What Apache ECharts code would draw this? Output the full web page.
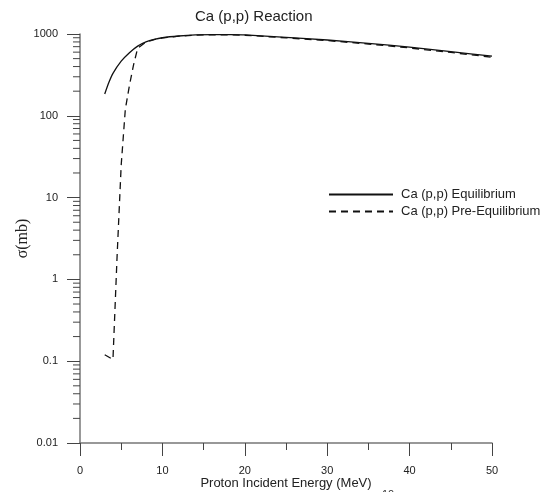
<!DOCTYPE html>
<html>
<head>
<meta charset="utf-8">
<script src="https://cdn.jsdelivr.net/npm/echarts@6/dist/echarts.min.js"></script>
<style>
  html, body { margin: 0; padding: 0; background: #fff; }
  #chart { width: 549px; height: 492px; }
</style>
</head>
<body>
<div id="chart"></div>
<script>
// proton energy (MeV) and cross section (mb)
const energyEq = [3, 3.5, 4, 5, 6, 7, 8, 9, 10, 12, 14, 16, 18, 20, 25, 30, 35, 40, 45, 50]
const sigmaEq = [185, 255, 330, 465, 590, 710, 800, 860, 900, 945, 975, 985, 982, 975, 910, 845, 770, 690, 610, 535]
const energyPre = [3, 4, 4.5, 5, 5.5, 6, 6.5, 7, 8, 9, 10, 12, 14, 16, 18, 20, 25, 30, 35, 40, 45, 50]
const sigmaPre = [0.12, 0.105, 1.9, 25, 120, 235, 420, 670, 795, 855, 895, 940, 970, 980, 976, 966, 898, 830, 755, 675, 595, 520]
const seriesNames = ['Ca (p,p) Equilibrium', 'Ca (p,p) Pre-Equilibrium']
const decades = [0.01, 0.1, 1, 10, 100]
const minorSteps = [2, 3, 4, 5, 6, 7, 8, 9]

const toPairs = (xs, ys) => xs.map((x, i) => [x, ys[i]])
const yMinor = []
decades.forEach(d => minorSteps.forEach(m => yMinor.push([0, d * m])))

const chart = echarts.init(document.getElementById('chart'))
const axisGrey = '#777'
const textColor = '#222'

chart.setOption({
  animation: false,
  backgroundColor: '#fff',
  title: {
    text: 'Ca (p,p) Reaction',
    left: 195,
    top: 9,
    padding: 0,
    textStyle: { fontFamily: 'Liberation Sans', fontSize: 15, fontWeight: 'normal', color: textColor }
  },
  legend: {
    data: seriesNames,
    orient: 'vertical',
    left: 328,
    top: 188,
    padding: 0,
    itemWidth: 64,
    itemHeight: 14,
    itemGap: 4,
    itemStyle: { opacity: 0 },
    textStyle: { fontFamily: 'Liberation Sans', fontSize: 13, color: textColor, padding: [0, 0, 0, 3] }
  },
  grid: { left: 80, right: 57, top: 34, bottom: 49, containLabel: false, outerBoundsMode: 'none' },
  xAxis: {
    type: 'value',
    min: 0,
    max: 50,
    interval: 10,
    name: 'Proton Incident Energy (MeV)',
    nameLocation: 'middle',
    nameGap: 34,
    nameMoveOverlap: false,
    nameTextStyle: { fontFamily: 'Liberation Sans', fontSize: 13, color: textColor },
    axisLine: { show: true, lineStyle: { color: axisGrey, width: 1.5 } },
    axisTick: { show: true, length: 13, lineStyle: { color: '#444' } },
    minorTick: { show: true, splitNumber: 2, length: 7, lineStyle: { color: '#444' } },
    splitLine: { show: false },
    axisLabel: { margin: 22, fontFamily: 'Liberation Sans', fontSize: 11, color: textColor }
  },
  yAxis: {
    type: 'log',
    logBase: 10,
    min: 0.01,
    max: 1000,
    name: 'σ(mb)',
    nameLocation: 'middle',
    nameGap: 49,
    nameMoveOverlap: false,
    nameTextStyle: { fontFamily: 'Liberation Serif', fontSize: 16, color: textColor },
    axisLine: { show: true, onZero: false, lineStyle: { color: axisGrey, width: 1.5 } },
    axisTick: { show: true, length: 13, lineStyle: { color: '#444' } },
    splitLine: { show: false },
    axisLabel: {
      margin: 22,
      fontFamily: 'Liberation Sans',
      fontSize: 11,
      color: textColor,
      formatter: v => String(Number(v.toPrecision(3)))
    }
  },
  series: [
    {
      name: seriesNames[0],
      type: 'line',
      data: toPairs(energyEq, sigmaEq),
      symbol: 'none',
      smooth: 0.2,
      lineStyle: { color: '#111', width: 1.3, type: 'solid' },
      itemStyle: { color: '#111' }
    },
    {
      name: seriesNames[1],
      type: 'line',
      data: toPairs(energyPre, sigmaPre),
      symbol: 'none',
      lineStyle: { color: '#111', width: 1.3, type: [7, 5] },
      itemStyle: { color: '#111' }
    },
    {
      // minor ticks of the log axis (2..9 in each decade)
      type: 'custom',
      silent: true,
      clip: false,
      data: yMinor,
      encode: { x: 0, y: 1 },
      renderItem: (params, api) => {
        const p = api.coord([api.value(0), api.value(1)])
        return {
          type: 'line',
          shape: { x1: p[0] - 7, y1: p[1], x2: p[0], y2: p[1] },
          style: { stroke: '#444', lineWidth: 1 }
        }
      }
    }
  ],
  graphic: [
    {
      type: 'text',
      left: 382,
      top: 489,
      style: { text: '10', fontFamily: 'Liberation Sans', fontSize: 11, fill: '#333' }
    }
  ]
})
</script>
</body>
</html>
